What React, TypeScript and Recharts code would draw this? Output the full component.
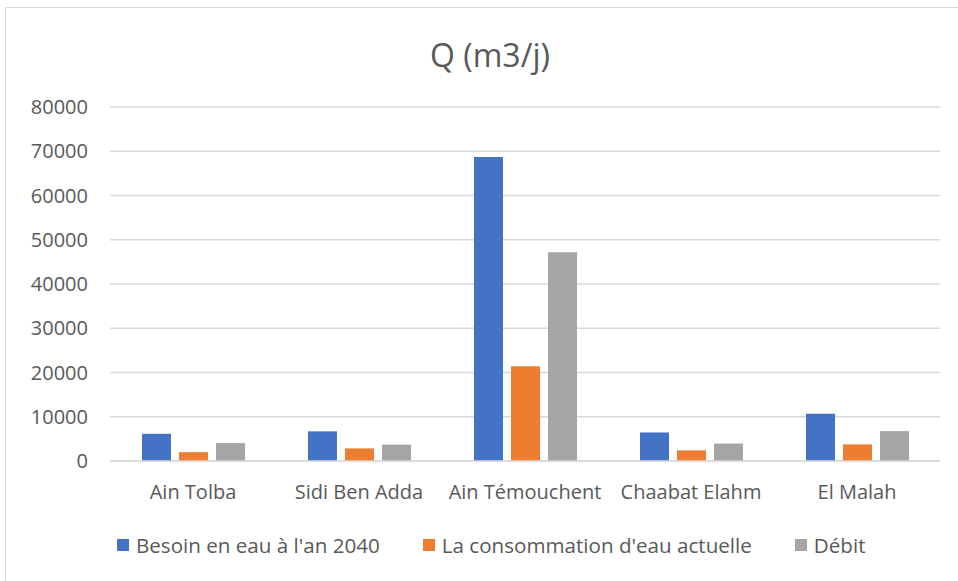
import React from "react";
import { BarChart, Bar, XAxis, YAxis, CartesianGrid, Legend } from "recharts";

const communes = ["Ain Tolba", "Sidi Ben Adda", "Ain Témouchent", "Chaabat Elahm", "El Malah"];
const besoin2040 = [6150, 6700, 68700, 6450, 10700];
const consommationActuelle = [2000, 2850, 21400, 2400, 3750];
const debit = [4050, 3700, 47200, 3950, 6750];
const yTicks = [0, 10000, 20000, 30000, 40000, 50000, 60000, 70000, 80000];

const seriesNames = ["Besoin en eau à l'an 2040", "La consommation d'eau actuelle", "Débit"];
const seriesColors = ["#4472C4", "#ED7D31", "#A5A5A5"];

const data = communes.map((name, i) => ({
  name,
  besoin: besoin2040[i],
  conso: consommationActuelle[i],
  debit: debit[i],
}));

const FONT = "'Open Sans', sans-serif";
const TEXT = "#595959";

const LegendContent = () => (
  <div style={{ display: "flex", alignItems: "center", paddingLeft: 117, gap: 43, fontFamily: FONT, fontSize: 20.6, color: TEXT }}>
    {seriesNames.map((n, i) => (
      <div key={n} style={{ display: "flex", alignItems: "center" }}>
        <span style={{ display: "inline-block", width: 12, height: 12, background: seriesColors[i], marginRight: 7 }} />
        <span style={{ whiteSpace: "nowrap" }}>{n}</span>
      </div>
    ))}
  </div>
);

export default function App() {
  return (
    <div style={{ position: "absolute", left: 0, top: 0, width: 958, height: 581, background: "#fff", overflow: "hidden" }}>
      <div style={{ position: "absolute", left: 5, top: 7, width: 960, height: 580, borderLeft: "1px solid #d9d9d9", borderTop: "1px solid #d9d9d9" }} />
      <div style={{ position: "absolute", left: 0, top: 33, width: 980, height: 44, lineHeight: "44px", textAlign: "center", fontFamily: FONT, fontSize: 32, color: TEXT }}>
        Q (m3/j)
      </div>
      <BarChart
        width={958}
        height={581}
        data={data}
        margin={{ top: 107, right: 18, bottom: 90, left: 0 }}
        barGap={8}
        style={{ position: "absolute", left: 0, top: 0 }}
      >
        <CartesianGrid vertical={false} stroke="#d9d9d9" strokeWidth={1.5} />
        <XAxis
          dataKey="name"
          axisLine={{ stroke: "#d9d9d9", strokeWidth: 1.5 }}
          tickLine={false}
          tickSize={0}
          tickMargin={24}
          tick={{ fill: TEXT, fontSize: 20, fontFamily: FONT }}
          interval={0}
        />
        <YAxis
          width={110}
          domain={[0, 80000]}
          ticks={yTicks}
          axisLine={false}
          tickLine={false}
          tickSize={0}
          tickMargin={22}
          tick={{ fill: TEXT, fontSize: 20, fontFamily: FONT }}
        />
        <Legend
          layout="horizontal"
          verticalAlign="middle"
          align="center"
          content={<LegendContent />}
          wrapperStyle={{ top: 531, left: 0, width: 958 }}
        />
        <Bar dataKey="besoin" name={seriesNames[0]} fill={seriesColors[0]} barSize={29} isAnimationActive={false} />
        <Bar dataKey="conso" name={seriesNames[1]} fill={seriesColors[1]} barSize={29} isAnimationActive={false} />
        <Bar dataKey="debit" name={seriesNames[2]} fill={seriesColors[2]} barSize={29} isAnimationActive={false} />
      </BarChart>
    </div>
  );
}
